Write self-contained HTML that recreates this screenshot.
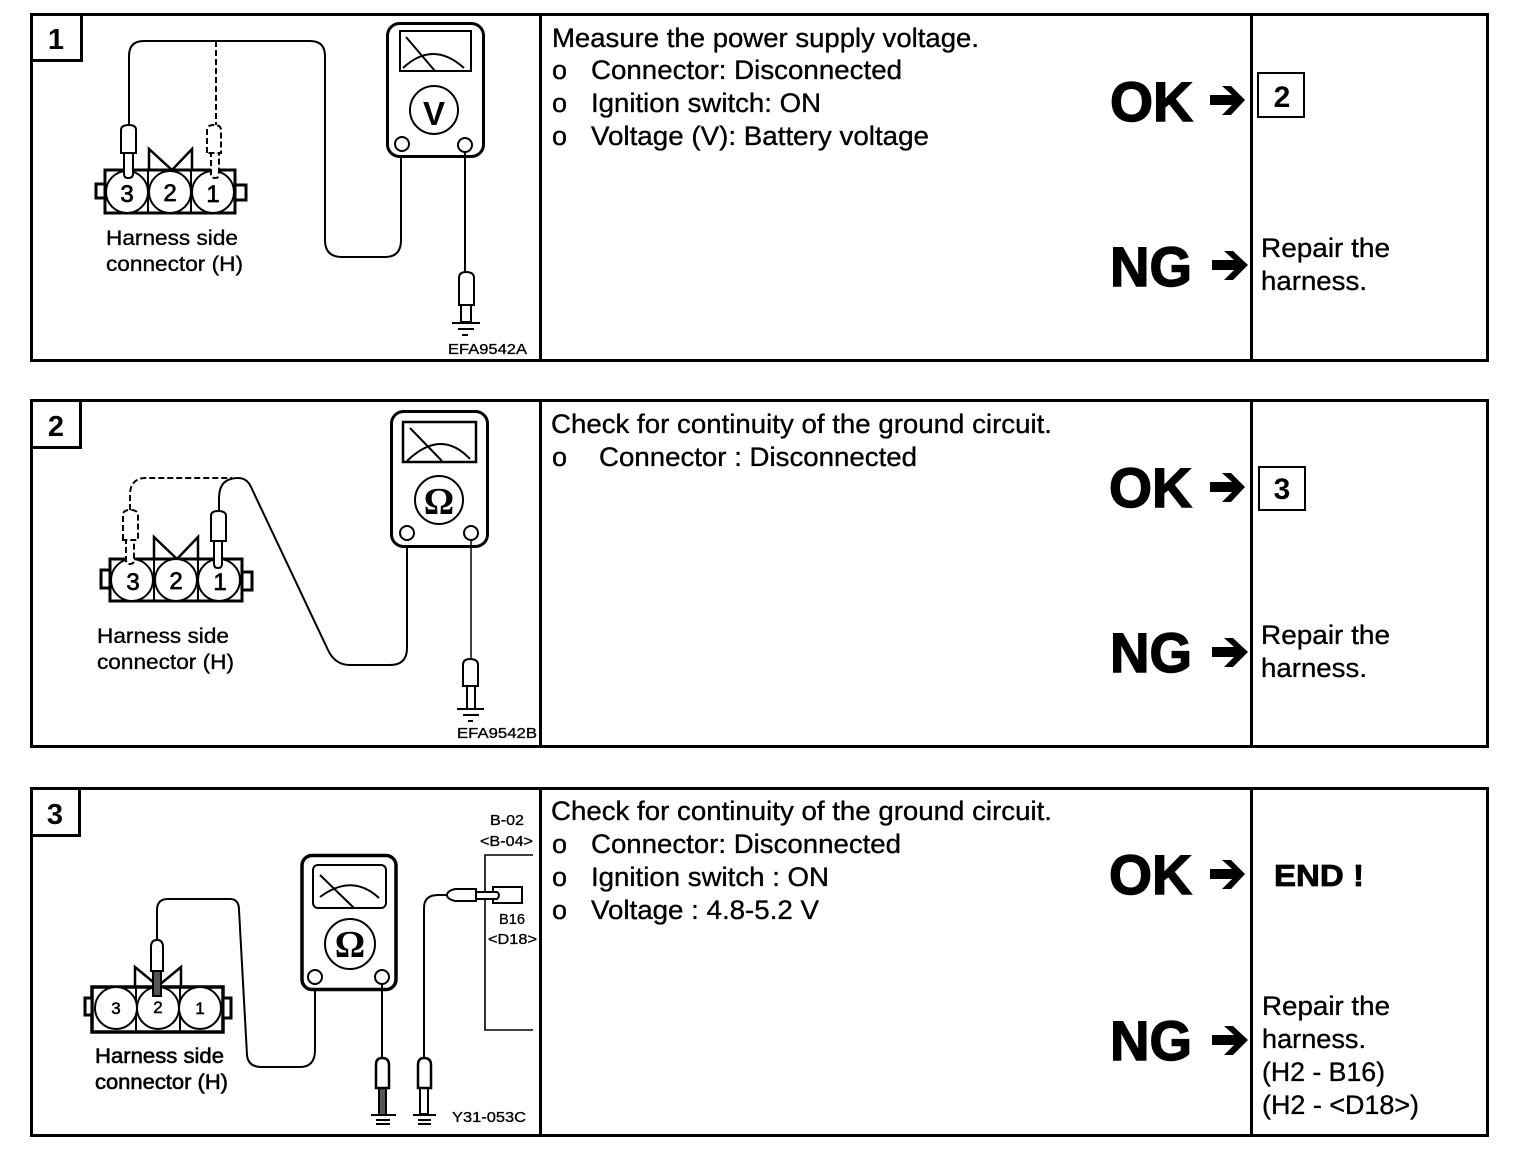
<!DOCTYPE html>
<html><head><meta charset="utf-8"><title>Diagnostic steps</title>
<style>
html,body{margin:0;padding:0;background:#fff}
svg{display:block}
text{font-family:"Liberation Sans",sans-serif;fill:#000;stroke:none}
.t{font-size:27px;stroke:#000;stroke-width:.35px}
.b{font-weight:bold}
.big{font-size:56px;font-weight:bold;stroke:#000;stroke-width:1.4px}
.h{font-size:21.5px;stroke:#000;stroke-width:.35px}
.s{font-size:14.5px;stroke:#000;stroke-width:.3px}
.n{font-size:30px;font-weight:bold;text-anchor:middle}
.c{font-size:24px;text-anchor:middle;stroke:#000;stroke-width:.7px}
.f{fill:none;stroke:#000;stroke-width:2}
.w{fill:#fff;stroke:#000;stroke-width:2}
.d{fill:#fff;stroke:#000;stroke-width:2;stroke-dasharray:6 3}
.dl{fill:none;stroke:#000;stroke-width:2;stroke-dasharray:6 3}
.k{fill:#000;stroke:none}
</style></head><body>
<svg width="1536" height="1162" viewBox="0 0 1536 1162" xmlns="http://www.w3.org/2000/svg">
<rect width="1536" height="1162" fill="#fff"/>

<!-- ========== PANEL 1 ========== -->
<g fill="none" stroke="#000" stroke-width="3">
<rect x="31.5" y="14.5" width="1456" height="346"/>
<path d="M540.5,14V361M1251.5,14V361"/>
<path d="M32,60.5H81.5V15"/>
</g>
<text class="n" x="56" y="49" style="font-size:29px">1</text>
<!-- wires -->
<path class="f" d="M129,125V56Q129,41 144,41H310Q325,41 325,56V240Q325,257 342,257H385Q401,257 401,240V152"/>
<path class="dl" d="M216,41V125"/>
<!-- connector -->
<rect class="f" style="stroke-width:3" x="105" y="170" width="130" height="43"/>
<path class="f" d="M148,170V213M191,170V213"/>
<path class="f" style="stroke-width:2.5" d="M149,170V149L172,170L192,149V170"/>
<rect class="w" style="stroke-width:3" x="96" y="184" width="9" height="14"/>
<rect class="w" style="stroke-width:3" x="235" y="185" width="11" height="15"/>
<circle class="w" cx="127" cy="192" r="21"/><circle class="w" cx="170" cy="192" r="21"/><circle class="w" cx="213" cy="192" r="21"/>
<text class="c" x="127" y="202">3</text>
<text class="c" x="170" y="201">2</text>
<text class="c" x="213" y="202">1</text>
<!-- probes -->
<path class="w" d="M124,151V174Q124,178 128,178Q133,178 133,174V151Z"/>
<path class="w" d="M121,153V130Q121,125 129,125Q136,125 136,130V153Z"/>
<path class="d" d="M211,151V174Q211,178 215,178Q219,178 219,174V151"/>
<path class="d" d="M207,153V130Q207,125 214,125Q221,125 221,130V153Z"/>
<text class="h" x="106" y="245" textLength="132" lengthAdjust="spacingAndGlyphs">Harness side</text>
<text class="h" x="106" y="271" textLength="137" lengthAdjust="spacingAndGlyphs">connector (H)</text>
<!-- meter -->
<rect class="w" style="stroke-width:3" x="387.5" y="23.5" width="96" height="133" rx="12"/>
<rect class="f" x="400" y="31" width="71" height="40"/>
<path class="f" d="M406,37L435,71M403,68Q433,40 464,68"/>
<circle class="f" cx="434" cy="110" r="24"/>
<text x="434" y="125" text-anchor="middle" class="b" style="font-size:33px">V</text>
<circle class="w" cx="402" cy="144" r="7"/><circle class="w" cx="465" cy="145" r="7"/>
<path class="f" d="M465,152V272"/>
<rect class="w" x="461" y="304" width="10" height="18"/>
<path class="w" d="M459,305V278Q459,272 466,272Q474,272 474,278V305Z"/>
<path class="f" d="M452,323H480M458,329H474M462,335H468"/>
<text class="s" x="448" y="354" textLength="79" lengthAdjust="spacingAndGlyphs">EFA9542A</text>
<!-- text -->
<text class="t" x="552" y="47" textLength="427" lengthAdjust="spacingAndGlyphs">Measure the power supply voltage.</text>
<text class="t" x="552" y="79">o</text><text class="t" x="591" y="79" textLength="311" lengthAdjust="spacingAndGlyphs">Connector: Disconnected</text>
<text class="t" x="552" y="112">o</text><text class="t" x="591" y="112" textLength="230" lengthAdjust="spacingAndGlyphs">Ignition switch: ON</text>
<text class="t" x="552" y="145">o</text><text class="t" x="591" y="145" textLength="338" lengthAdjust="spacingAndGlyphs">Voltage (V): Battery voltage</text>
<text class="big" x="1110" y="121" textLength="83" lengthAdjust="spacingAndGlyphs">OK</text>
<path class="k" d="M1210,95H1232L1222,86H1231L1245,100L1231,115H1222L1232,105H1210Z"/>
<rect class="f" x="1258" y="73" width="46" height="44"/>
<text class="n" x="1282" y="107">2</text>
<text class="big" x="1110" y="286" textLength="82" lengthAdjust="spacingAndGlyphs">NG</text>
<path class="k" d="M1212,260H1234L1224,251H1233L1248,265L1233,280H1224L1234,270H1212Z"/>
<text class="t" x="1261" y="257" textLength="129" lengthAdjust="spacingAndGlyphs">Repair the</text>
<text class="t" x="1261" y="290" textLength="106" lengthAdjust="spacingAndGlyphs">harness.</text>

<!-- ========== PANEL 2 ========== -->
<g fill="none" stroke="#000" stroke-width="3">
<rect x="31.5" y="400.5" width="1456" height="346"/>
<path d="M540.5,400V747M1251.5,400V747"/>
<path d="M32,447.5H80.5V401"/>
</g>
<text class="n" x="56" y="436" style="font-size:29px">2</text>
<path class="f" d="M219,511V498Q219,478 238,478Q247,478 251,487L328,650Q335,665 350,665H390Q407,665 407,648V540"/>
<path class="dl" d="M130,510V495Q130,478 146,478H232"/>
<rect class="f" style="stroke-width:3" x="110" y="559" width="132" height="42"/>
<path class="f" d="M154,559V601M198,559V601"/>
<path class="f" style="stroke-width:2.5" d="M154,559V537L177,559L198,537V559"/>
<rect class="w" style="stroke-width:3" x="101" y="570" width="9" height="18"/>
<rect class="w" style="stroke-width:3" x="242" y="572" width="10" height="18"/>
<circle class="w" cx="132" cy="580" r="21"/><circle class="w" cx="176" cy="580" r="21"/><circle class="w" cx="219" cy="580" r="21"/>
<text class="c" x="133" y="590">3</text>
<text class="c" x="176" y="589">2</text>
<text class="c" x="220" y="590">1</text>
<path class="w" d="M214,539V564Q214,568 218,568Q222,568 222,564V539Z"/>
<path class="w" d="M211,541V516Q211,511 218,511Q226,511 226,516V541Z"/>
<path class="d" d="M126,538V560Q126,564 130,564Q134,564 134,560V538"/>
<path class="d" d="M123,540V515Q123,510 130,510Q138,510 138,515V540Z"/>
<text class="h" x="97" y="643" textLength="132" lengthAdjust="spacingAndGlyphs">Harness side</text>
<text class="h" x="97" y="669" textLength="137" lengthAdjust="spacingAndGlyphs">connector (H)</text>
<rect class="w" style="stroke-width:3" x="391.5" y="411.5" width="96" height="135" rx="12"/>
<rect class="f" style="stroke-width:2.5" x="403" y="422" width="73" height="40"/>
<path class="f" d="M410,428L442,461M407,461Q441,428 470,459"/>
<circle class="f" cx="439" cy="500" r="24"/>
<text x="439" y="514" text-anchor="middle" class="b" style="font-size:38px;font-family:'Liberation Serif',serif">Ω</text>
<circle class="w" cx="407" cy="533" r="7"/><circle class="w" cx="471" cy="533" r="7"/>
<path class="f" style="stroke-width:1.5" d="M471,540V659"/>
<rect class="w" x="467" y="685" width="8" height="24"/>
<path class="w" d="M463,686V665Q463,659 470,659Q478,659 478,665V686Z"/>
<path class="f" d="M457,709H484M463,715H479M468,721H473"/>
<text class="s" x="457" y="738" textLength="80" lengthAdjust="spacingAndGlyphs">EFA9542B</text>
<text class="t" x="551" y="433" textLength="501" lengthAdjust="spacingAndGlyphs">Check for continuity of the ground circuit.</text>
<text class="t" x="552" y="466">o</text><text class="t" x="599" y="466" textLength="318" lengthAdjust="spacingAndGlyphs">Connector : Disconnected</text>
<text class="big" x="1109" y="507" textLength="83" lengthAdjust="spacingAndGlyphs">OK</text>
<path class="k" d="M1210,482H1232L1222,473H1231L1245,487L1231,502H1222L1232,492H1210Z"/>
<rect class="f" x="1259" y="467" width="46" height="43"/>
<text class="n" x="1282" y="499">3</text>
<text class="big" x="1110" y="672" textLength="82" lengthAdjust="spacingAndGlyphs">NG</text>
<path class="k" d="M1212,647H1234L1224,638H1233L1248,652L1233,667H1224L1234,657H1212Z"/>
<text class="t" x="1261" y="644" textLength="129" lengthAdjust="spacingAndGlyphs">Repair the</text>
<text class="t" x="1261" y="677" textLength="106" lengthAdjust="spacingAndGlyphs">harness.</text>

<!-- ========== PANEL 3 ========== -->
<g fill="none" stroke="#000" stroke-width="3">
<rect x="31.5" y="788.5" width="1456" height="347"/>
<path d="M540.5,788V1136M1251.5,788V1136"/>
<path d="M32,835.5H79.5V789"/>
</g>
<text class="n" x="55" y="824" style="font-size:29px">3</text>
<path class="f" d="M157,940V910Q157,899 168,899H230Q239,899 239,910L247,1055Q248,1067 262,1067H300Q315,1067 315,1050V988"/>
<rect class="f" style="stroke-width:3.5" x="92" y="987" width="131" height="45"/>
<path class="f" d="M136,987V1032M180,987V1032"/>
<path class="f" style="stroke-width:2.5" d="M135,987V967L158,986L181,967V987"/>
<rect class="w" style="stroke-width:3" x="85" y="998" width="7" height="17"/>
<rect class="w" style="stroke-width:3" x="223" y="998" width="8" height="20"/>
<circle class="w" cx="116" cy="1008" r="21"/><circle class="w" cx="158" cy="1008" r="21"/><circle class="w" cx="200" cy="1008" r="21"/>
<text x="116" y="1014" text-anchor="middle" style="font-size:17px;stroke:#000;stroke-width:.5px">3</text>
<text x="158" y="1013" text-anchor="middle" style="font-size:17px;stroke:#000;stroke-width:.5px">2</text>
<text x="200" y="1014" text-anchor="middle" style="font-size:17px;stroke:#000;stroke-width:.5px">1</text>
<rect x="153" y="970" width="8" height="26" fill="#555" stroke="#000" stroke-width="2"/>
<path class="w" d="M151,971V947Q151,940 157,940Q163,940 163,947V971Z"/>
<text class="h" x="95" y="1063" textLength="129" lengthAdjust="spacingAndGlyphs" style="stroke-width:.6px">Harness side</text>
<text class="h" x="95" y="1089" textLength="133" lengthAdjust="spacingAndGlyphs" style="stroke-width:.6px">connector (H)</text>
<rect class="w" style="stroke-width:3.5" x="302" y="855.5" width="94" height="134" rx="10"/>
<rect class="f" x="313" y="865" width="73" height="43" rx="5"/>
<path class="f" d="M320,875L354,908M320,897Q352,873 379,898"/>
<circle class="f" cx="350" cy="944" r="25"/>
<text x="350" y="957" text-anchor="middle" class="b" style="font-size:38px;font-family:'Liberation Serif',serif">Ω</text>
<circle class="w" cx="315" cy="977" r="7"/><circle class="w" cx="382" cy="977" r="7"/>
<path class="f" d="M382,984V1058"/>
<rect x="379" y="1087" width="7" height="28" fill="#555" stroke="#000" stroke-width="2"/>
<path class="w" style="stroke-width:2.5" d="M376,1088V1065Q376,1058 382,1058Q389,1058 389,1065V1088Z"/>
<path class="f" d="M371,1115H396M376,1120H390M376,1124H390"/>
<path class="f" d="M424,1058V908Q424,895 438,895H447"/>
<rect class="w" x="420" y="1087" width="8" height="27"/>
<path class="w" style="stroke-width:2.5" d="M418,1088V1065Q418,1058 424,1058Q431,1058 431,1065V1088Z"/>
<path class="f" d="M413,1115H436M418,1120H431M418,1124H431"/>
<path class="f" style="stroke-width:1.6" d="M533,855H485V1030H533"/>
<rect class="f" x="493" y="887" width="29" height="16"/>
<path class="w" d="M475,892H497Q501,895 497,899H475Z"/>
<path class="w" d="M476,889V901H455Q447,899 447,895Q447,891 455,889Z"/>
<text class="s" x="490" y="825" textLength="34" lengthAdjust="spacingAndGlyphs">B-02</text>
<text class="s" x="480" y="846" textLength="53" lengthAdjust="spacingAndGlyphs">&lt;B-04&gt;</text>
<text class="s" x="499" y="924" textLength="26" lengthAdjust="spacingAndGlyphs">B16</text>
<text class="s" x="488" y="944" textLength="49" lengthAdjust="spacingAndGlyphs">&lt;D18&gt;</text>
<text class="s" x="452" y="1122" textLength="74" lengthAdjust="spacingAndGlyphs">Y31-053C</text>
<text class="t" x="551" y="820" textLength="501" lengthAdjust="spacingAndGlyphs">Check for continuity of the ground circuit.</text>
<text class="t" x="552" y="853">o</text><text class="t" x="591" y="853" textLength="310" lengthAdjust="spacingAndGlyphs">Connector: Disconnected</text>
<text class="t" x="552" y="886">o</text><text class="t" x="591" y="886" textLength="238" lengthAdjust="spacingAndGlyphs">Ignition switch : ON</text>
<text class="t" x="552" y="919">o</text><text class="t" x="591" y="919" textLength="228" lengthAdjust="spacingAndGlyphs">Voltage : 4.8-5.2 V</text>
<text class="big" x="1109" y="894" textLength="83" lengthAdjust="spacingAndGlyphs">OK</text>
<path class="k" d="M1210,869H1232L1222,860H1231L1245,874L1231,889H1222L1232,879H1210Z"/>
<text x="1274" y="886" class="b" style="font-size:31px;stroke:#000;stroke-width:.8px" textLength="90" lengthAdjust="spacingAndGlyphs">END !</text>
<text class="big" x="1110" y="1060" textLength="82" lengthAdjust="spacingAndGlyphs">NG</text>
<path class="k" d="M1212,1035H1234L1224,1026H1233L1248,1040L1233,1055H1224L1234,1045H1212Z"/>
<text class="t" x="1262" y="1015" textLength="128" lengthAdjust="spacingAndGlyphs">Repair the</text>
<text class="t" x="1262" y="1048" textLength="104" lengthAdjust="spacingAndGlyphs">harness.</text>
<text class="t" x="1262" y="1081" textLength="123" lengthAdjust="spacingAndGlyphs">(H2 - B16)</text>
<text class="t" x="1262" y="1114" textLength="157" lengthAdjust="spacingAndGlyphs">(H2 - &lt;D18&gt;)</text>
</svg>
</body></html>
